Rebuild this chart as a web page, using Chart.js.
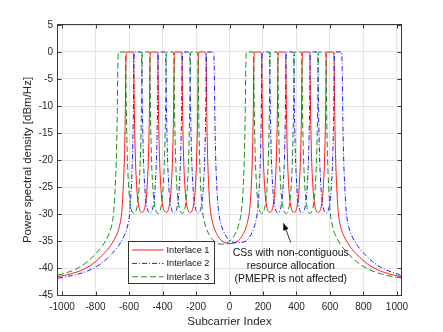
<!DOCTYPE html>
<html>
<head>
<meta charset="utf-8">
<script src="https://cdn.jsdelivr.net/npm/chart.js@4.4.1/dist/chart.umd.min.js"></script>
<style>
html, body { margin: 0; padding: 0; background: #fff; }
</style>
</head>
<body>
<canvas id="psd-plot" width="443" height="332"></canvas>
<script>
// tick values
const xTickVals = [-1000, -800, -600, -400, -200, 0, 200, 400, 600, 800, 1000];
const yTickVals = [-45, -40, -35, -30, -25, -20, -15, -10, -5, 0, 5];

// Interlace 1 (red, solid)
const il1_x = [
  -1024, -949, -869, -799, -749, -709, -679, -659, -643, -635, -627, -622, -619,
  -614, -576, -571,
  -568, -563, -555, -545, -523, -501, -491, -483, -478, -475,
  -470, -432, -427,
  -424, -419, -411, -401, -379, -357, -347, -339, -334, -331,
  -326, -288, -283,
  -280, -275, -267, -257, -235, -213, -203, -195, -190, -187,
  -182, -144, -139,
  -136, -131, -123, -115, -99, -74, -44, 3, 50, 80, 105, 121, 129, 137, 142, 145,
  150, 188, 193,
  196, 201, 209, 219, 241, 263, 273, 281, 286, 289,
  294, 332, 337,
  340, 345, 353, 363, 385, 407, 417, 425, 430, 433,
  438, 476, 481,
  484, 489, 497, 507, 529, 551, 561, 569, 574, 577,
  582, 620, 625,
  628, 633, 641, 649, 665, 685, 715, 755, 805, 875, 955, 1024
];
const il1_y = [
  -41.6, -41.1, -40.2, -38.8, -37.3, -35.8, -34.2, -32.5, -29.5, -25.5, -19, -11, -3,
  0, 0, -3,
  -11, -18.5, -24.5, -28, -29.7, -28, -24.5, -18.5, -11, -3,
  0, 0, -3,
  -11, -18.5, -24.5, -28, -29.7, -28, -24.5, -18.5, -11, -3,
  0, 0, -3,
  -11, -18.5, -24.5, -28, -29.7, -28, -24.5, -18.5, -11, -3,
  0, 0, -3,
  -11, -19, -25.5, -29, -31.8, -33.8, -35, -35.5, -35, -33.8, -31.8, -29, -25.5, -19, -11, -3,
  0, 0, -3,
  -11, -18.5, -24.5, -28, -29.7, -28, -24.5, -18.5, -11, -3,
  0, 0, -3,
  -11, -18.5, -24.5, -28, -29.7, -28, -24.5, -18.5, -11, -3,
  0, 0, -3,
  -11, -18.5, -24.5, -28, -29.7, -28, -24.5, -18.5, -11, -3,
  0, 0, -3,
  -11, -19, -25.5, -29.5, -32.5, -34.2, -35.8, -37.3, -38.8, -40.2, -41.1, -41.6
];

// Interlace 2 (blue, dash-dot)
const il2_x = [
  -1024, -971, -901, -821, -751, -701, -661, -631, -611, -595, -587, -579, -574, -571,
  -566, -528, -523,
  -520, -515, -507, -497, -475, -453, -443, -435, -430, -427,
  -422, -384, -379,
  -376, -371, -363, -353, -331, -309, -299, -291, -286, -283,
  -278, -240, -235,
  -232, -227, -219, -209, -187, -165, -155, -147, -142, -139,
  -134, -96, -91,
  -88, -83, -75, -67, -51, -26, 4, 51, 98, 128, 153, 169, 177, 185, 190, 193,
  198, 236, 241,
  244, 249, 257, 267, 289, 311, 321, 329, 334, 337,
  342, 380, 385,
  388, 393, 401, 411, 433, 455, 465, 473, 478, 481,
  486, 524, 529,
  532, 537, 545, 555, 577, 599, 609, 617, 622, 625,
  630, 668, 673,
  676, 681, 689, 697, 713, 733, 763, 803, 853, 923, 1003, 1024
];
const il2_y = [
  -41.9, -41.6, -41.1, -40.2, -38.8, -37.3, -35.8, -34.2, -32.5, -29.5, -25.5, -19, -11, -3,
  0, 0, -3,
  -11, -18.5, -24.5, -28, -29.8, -28, -24.5, -18.5, -11, -3,
  0, 0, -3,
  -11, -18.5, -24.5, -28, -29.8, -28, -24.5, -18.5, -11, -3,
  0, 0, -3,
  -11, -18.5, -24.5, -28, -29.8, -28, -24.5, -18.5, -11, -3,
  0, 0, -3,
  -11, -19, -25.5, -29, -31.8, -33.8, -35, -35.3, -35, -33.8, -31.8, -29, -25.5, -19, -11, -3,
  0, 0, -3,
  -11, -18.5, -24.5, -28, -29.8, -28, -24.5, -18.5, -11, -3,
  0, 0, -3,
  -11, -18.5, -24.5, -28, -29.8, -28, -24.5, -18.5, -11, -3,
  0, 0, -3,
  -11, -18.5, -24.5, -28, -29.8, -28, -24.5, -18.5, -11, -3,
  0, 0, -3,
  -11, -19, -25.5, -29.5, -32.5, -34.2, -35.8, -37.3, -38.8, -40.2, -41.1, -41.4
];

// Interlace 3 (green, dashed)
const il3_x = [
  -1024, -997, -917, -847, -797, -757, -727, -707, -691, -683, -675, -670, -667,
  -662, -624, -619,
  -616, -611, -603, -593, -571, -549, -539, -531, -526, -523,
  -518, -480, -475,
  -472, -467, -459, -449, -427, -405, -395, -387, -382, -379,
  -374, -336, -331,
  -328, -323, -315, -305, -283, -261, -251, -243, -238, -235,
  -230, -192, -187,
  -184, -179, -171, -163, -147, -122, -92, -45, 2, 32, 57, 73, 81, 89, 94, 97,
  102, 140, 145,
  148, 153, 161, 171, 193, 215, 225, 233, 238, 241,
  246, 284, 289,
  292, 297, 305, 315, 337, 359, 369, 377, 382, 385,
  390, 428, 433,
  436, 441, 449, 459, 481, 503, 513, 521, 526, 529,
  534, 572, 577,
  580, 585, 593, 601, 617, 637, 667, 707, 757, 827, 907, 977, 1024
];
const il3_y = [
  -41.3, -41.1, -40.2, -38.8, -37.3, -35.8, -34.2, -32.5, -29.5, -25.5, -19, -11, -3,
  0, 0, -3,
  -11, -18.5, -24.5, -28, -29.9, -28, -24.5, -18.5, -11, -3,
  0, 0, -3,
  -11, -18.5, -24.5, -28, -29.9, -28, -24.5, -18.5, -11, -3,
  0, 0, -3,
  -11, -18.5, -24.5, -28, -29.9, -28, -24.5, -18.5, -11, -3,
  0, 0, -3,
  -11, -19, -25.5, -29, -31.8, -33.8, -35, -35.6, -35, -33.8, -31.8, -29, -25.5, -19, -11, -3,
  0, 0, -3,
  -11, -18.5, -24.5, -28, -29.9, -28, -24.5, -18.5, -11, -3,
  0, 0, -3,
  -11, -18.5, -24.5, -28, -29.9, -28, -24.5, -18.5, -11, -3,
  0, 0, -3,
  -11, -18.5, -24.5, -28, -29.9, -28, -24.5, -18.5, -11, -3,
  0, 0, -3,
  -11, -19, -25.5, -29.5, -32.5, -34.2, -35.8, -37.3, -38.8, -40.2, -41.1, -41.6, -41.8
];

const noteLines = ['CSs with non-contiguous', 'resource allocation', '(PMEPR is not affected)'];

const FONT = '"Liberation Sans", Arial, Helvetica, sans-serif';
const AXIS_COLOR = '#262626';

function to_points(xs, ys) {
    return xs.map((v, i) => ({ x: v, y: ys[i] }));
}

// box, inward ticks, legend and text arrow (MATLAB look)
const matlab_decor = {
    id: 'matlab_decor',
    afterDatasetsDraw(chart) {
        const { ctx, chartArea: a, scales: { x, y } } = chart;
        ctx.save();

        // text arrow
        const tx = x.getPixelForValue(366), ty = y.getPixelForValue(-35.3);
        const hx = x.getPixelForValue(322), hy = y.getPixelForValue(-31.7);
        ctx.strokeStyle = '#000';
        ctx.fillStyle = '#000';
        ctx.lineWidth = 0.8;
        ctx.beginPath();
        ctx.moveTo(tx, ty);
        ctx.lineTo(hx, hy);
        ctx.stroke();
        let ang = Math.atan2(hy - ty, hx - tx);
        let len = 7, half = 2.8;
        ctx.beginPath();
        ctx.moveTo(hx, hy);
        ctx.lineTo(hx - len * Math.cos(ang) + half * Math.sin(ang), hy - len * Math.sin(ang) - half * Math.cos(ang));
        ctx.lineTo(hx - len * Math.cos(ang) - half * Math.sin(ang), hy - len * Math.sin(ang) + half * Math.cos(ang));
        ctx.closePath();
        ctx.fill();

        ctx.font = '10.5px ' + FONT;
        ctx.textAlign = 'center';
        ctx.textBaseline = 'middle';
        ctx.fillStyle = '#111';
        let cx = x.getPixelForValue(366);
        let rows = [-37.2, -39.6, -42.05];
        noteLines.forEach((t, i) => ctx.fillText(t, cx, y.getPixelForValue(rows[i])));

        // legend
        const lg = { left: 128.5, top: 241.5, w: 86, h: 42 };
        ctx.fillStyle = '#fff';
        ctx.fillRect(lg.left, lg.top, lg.w, lg.h);
        ctx.strokeStyle = '#333';
        ctx.lineWidth = 1;
        ctx.strokeRect(lg.left, lg.top, lg.w, lg.h);
        const order = [0, 1, 2];
        ctx.font = '9.2px ' + FONT;
        ctx.textAlign = 'left';
        order.forEach((di, i) => {
            const ds = chart.data.datasets[di];
            const ry = 250 + i * 13.4;
            ctx.strokeStyle = ds.borderColor;
            ctx.lineWidth = ds.borderWidth;
            ctx.setLineDash(ds.borderDash || []);
            ctx.beginPath();
            ctx.moveTo(132, ry);
            ctx.lineTo(163.5, ry);
            ctx.stroke();
            ctx.setLineDash([]);
            ctx.fillStyle = '#111';
            ctx.fillText(ds.label, 166.5, ry + 0.5);
        });

        // box
        ctx.strokeStyle = '#3a3a3a';
        ctx.lineWidth = 1;
        ctx.strokeRect(a.left - 0.5, a.top - 0.5, a.right - a.left + 1, a.bottom - a.top + 1);
        // inward ticks
        ctx.beginPath();
        xTickVals.forEach(v => {
            const px = Math.round(x.getPixelForValue(v)) + 0.5;
            ctx.moveTo(px, a.bottom); ctx.lineTo(px, a.bottom - 3.5);
            ctx.moveTo(px, a.top); ctx.lineTo(px, a.top + 3.5);
        });
        yTickVals.forEach(v => {
            const py = Math.round(y.getPixelForValue(v)) + 0.5;
            ctx.moveTo(a.left, py); ctx.lineTo(a.left + 3.5, py);
            ctx.moveTo(a.right, py); ctx.lineTo(a.right - 3.5, py);
        });
        ctx.stroke();
        ctx.restore();
    }
};

const ctx = document.getElementById('psd-plot');
const chart = new Chart(ctx, {
    type: 'line',
    data: {
        datasets: [
            {
                label: 'Interlace 1',
                data: to_points(il1_x, il1_y),
                borderColor: '#ff0000',
                borderWidth: 0.9,
                fill: false,
                order: 3
            },
            {
                label: 'Interlace 2',
                data: to_points(il2_x, il2_y),
                borderColor: '#0000ff',
                borderWidth: 0.9,
                borderDash: [5, 2, 1, 2],
                fill: false,
                order: 2
            },
            {
                label: 'Interlace 3',
                data: to_points(il3_x, il3_y),
                borderColor: '#008000',
                borderWidth: 0.9,
                borderDash: [6, 3],
                fill: false,
                order: 1
            }
        ]
    },
    options: {
        responsive: false,
        animation: false,
        events: [],
        layout: { padding: { top: 25, right: 42, left: 0, bottom: 0 } },
        elements: {
            point: { radius: 0 },
            line: { cubicInterpolationMode: 'monotone' }
        },
        plugins: {
            legend: { display: false },
            tooltip: { enabled: false }
        },
        scales: {
            x: {
                type: 'linear',
                min: -1024,
                max: 1024,
                afterBuildTicks: s => { s.ticks = xTickVals.map(v => ({ value: v })); },
                afterFit: s => { s.height = 37; },
                grid: { color: '#e4e4e4', drawTicks: false },
                border: { display: false },
                ticks: {
                    padding: 6,
                    color: AXIS_COLOR,
                    autoSkip: false,
                    maxRotation: 0,
                    font: { family: FONT, size: 10 },
                    callback: v => String(v)
                },
                title: {
                    display: true,
                    text: 'Subcarrier Index',
                    color: AXIS_COLOR,
                    font: { family: FONT, size: 11.5 },
                    padding: { top: 0, bottom: 3.4 }
                }
            },
            y: {
                type: 'linear',
                min: -45,
                max: 5,
                afterBuildTicks: s => { s.ticks = yTickVals.map(v => ({ value: v })); },
                afterFit: s => { s.width = 58; },
                grid: { color: '#e4e4e4', drawTicks: false },
                border: { display: false },
                ticks: {
                    padding: 5,
                    color: AXIS_COLOR,
                    font: { family: FONT, size: 10 },
                    callback: v => String(v)
                },
                title: {
                    display: true,
                    text: 'Power spectral density [dBm/Hz]',
                    color: AXIS_COLOR,
                    font: { family: FONT, size: 11.5 },
                    padding: { top: 21.4, bottom: 0 }
                }
            }
        }
    },
    plugins: [matlab_decor]
});
</script>
</body>
</html>
